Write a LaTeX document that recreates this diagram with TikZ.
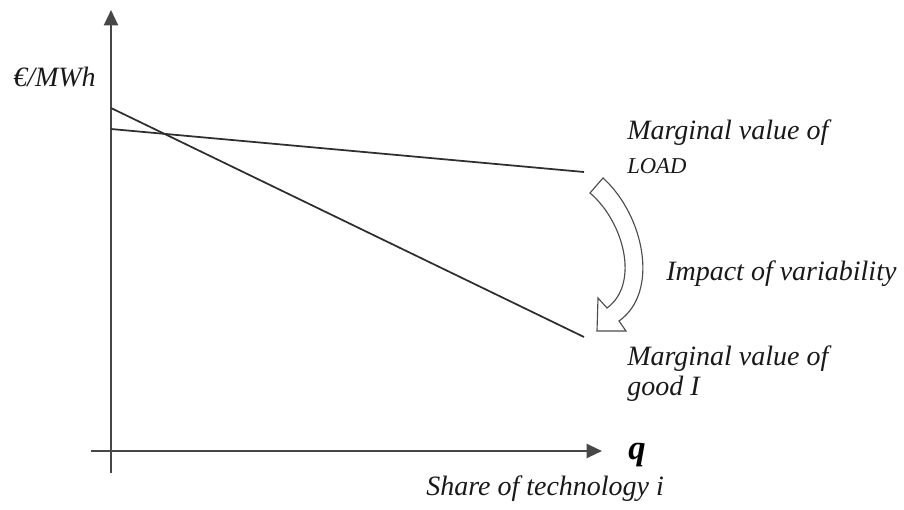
\documentclass[tikz,border=0pt]{standalone}
\usepackage{fontspec}
\setmainfont{Liberation Serif}
\usetikzlibrary{arrows.meta}
\begin{document}
\begin{tikzpicture}[x=0.75pt,y=-0.75pt,
  axis/.style={draw=black!72,line width=1.6pt},
  curve/.style={draw=black!82,line width=1.3pt},
  lbl/.style={anchor=base west,inner sep=0pt,font=\fontsize{21}{25}\selectfont\itshape,text=black!90},
  small/.style={anchor=base west,inner sep=0pt,font=\fontsize{17}{20}\selectfont\itshape,text=black!90},
  bigq/.style={anchor=base west,inner sep=0pt,font=\fontsize{26}{30}\selectfont\bfseries\itshape,text=black},
  tip/.style={-{Triangle[length=11.5pt,width=10.5pt]}}]
\useasboundingbox (0,0) rectangle (904,510);
% axes
\coordinate (ybot) at (111,473);
\coordinate (ytop) at (111,10);
\coordinate (xleft) at (91,451);
\coordinate (xright) at (602,451);
\draw[axis,tip] (ybot) -- (ytop);
\draw[axis,tip] (xleft) -- (xright);
% lines
\coordinate (load0) at (111,129);
\coordinate (load1) at (584,172);
\coordinate (good0) at (111,108);
\coordinate (good1) at (584,337);
\draw[curve] (load0) -- (load1);
\draw[curve] (good0) -- (good1);
% curved hollow arrow
\draw[draw=black!70,line width=0.85pt,fill=white,line join=miter]
  (603,178) .. controls (644,215) and (660,292) .. (619,321)
  -- (626,331) -- (597,331) -- (598,298) -- (607,308)
  .. controls (640,284) and (624,222) .. (590,193) -- cycle;
% labels
\node[lbl] (unit) at (13,87) {€/MWh};
\node[lbl] (mvload) at (627,140) {Marginal value of};
\node[small] (load) at (627,173) {LOAD};
\node[lbl] (impact) at (666,280) {Impact of variability};
\node[lbl] (mvgood) at (627,365) {Marginal value of};
\node[lbl] (good) at (627,395) {good I};
\node[bigq] (q) at (628,459) {q};
\node[lbl] (share) at (426,495) {Share of technology i};
\end{tikzpicture}
\end{document}
